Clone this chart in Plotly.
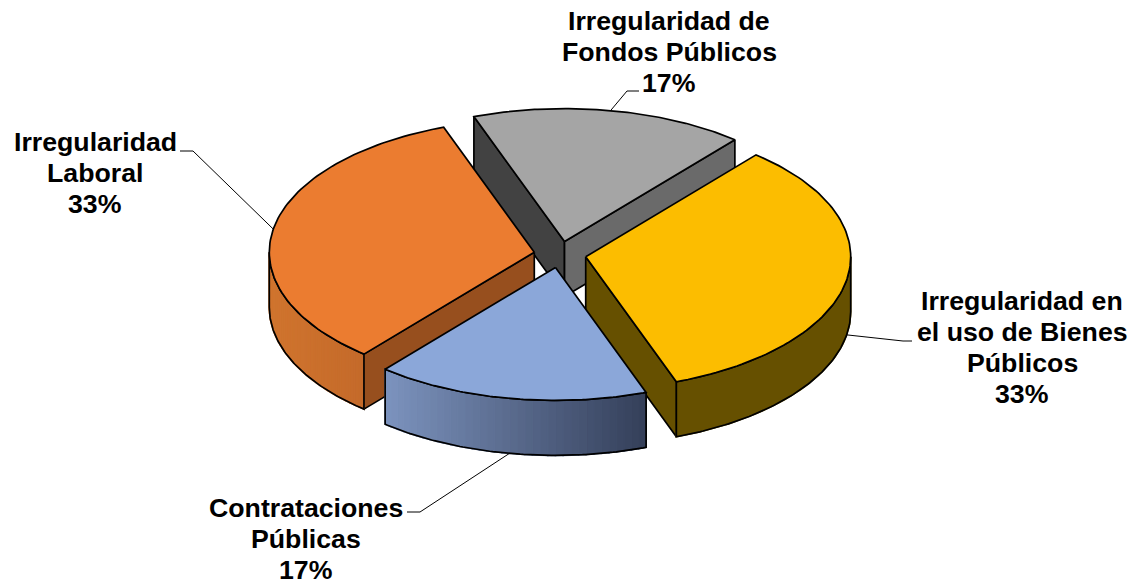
import numpy as np
import plotly.graph_objects as go

# --- data ---
categories = [["Irregularidad en", "el uso de Bienes", "Públicos"],
              ["Contrataciones", "Públicas"],
              ["Irregularidad", "Laboral"],
              ["Irregularidad de", "Fondos Públicos"]]
values = [2, 1, 2, 1]

# --- styles and layout ---
top_colors = ["#FCBD00", "#8BA7D9", "#EB7C30", "#A5A5A5"]
start_wall_colors = [None, None, "#974F1E", "#424242"]   # wall along the slice's first edge
end_wall_colors = ["#665000", None, None, "#6A6A6A"]     # wall along the slice's last edge
rim_colors = [("#665000", "#665000"), ("#7C93BE", "#343F59"),
              ("#D0742E", "#C46A2A"), None]
draw_order = [3, 2, 0, 1]
CX, CY, RX, RY, DEPTH = 560.0, 254.5, 265.0, 133.0, 55.0
EXPLODE = 0.0985
START = 50.0
LINE = 1.7
FONT_SIZE = 26.7
LINE_STEP = 31.0
label_first_line = [(1022, 301), (306, 508), (95, 142), (669, 21)]
leader_elbow = [(903, 341), (420, 512), (193, 151), (627, 91)]
leader_end = [(912, 341), (407, 512), (180, 151), (639, 91)]
leader_on_rim_bottom = [True, True, False, False]

total = sum(values)
spans = [v / total * 360.0 for v in values]
fig = go.Figure()


def add_poly(x, y, fill, line_color=None, width=1.6):
    x, y = list(x), list(y)
    fig.add_trace(go.Scatter(x=x + x[:1], y=y + y[:1], mode="lines", fill="toself", fillcolor=fill,
                             line=dict(color=line_color or fill, width=width),
                             hoverinfo="skip", showlegend=False))


def lerp(c0, c1, t):
    a = [int(c0[i:i + 2], 16) for i in (1, 3, 5)]
    b = [int(c1[i:i + 2], 16) for i in (1, 3, 5)]
    return "#%02x%02x%02x" % tuple(round(p + (q - p) * t) for p, q in zip(a, b))


def arc(cx, cy, a0, a1, n=90):
    t = np.radians(np.linspace(a0, a1, n))
    return cx + RX * np.cos(t), cy - RY * np.sin(t)


def add_cut_wall(cx, cy, a, color):
    x, y = arc(cx, cy, a, a, 1)
    add_poly([cx, x[0], x[0], cx], [cy, y[0], y[0] + DEPTH, cy + DEPTH], color, "#000000", LINE)


slices = []
angle = START
for span in spans:
    a0, a1 = angle, angle - span
    mid = np.radians((a0 + a1) / 2)
    slices.append((a0, a1, CX + EXPLODE * RX * np.cos(mid), CY - EXPLODE * RY * np.sin(mid)))
    angle = a1

for i in draw_order:
    a0, a1, cx, cy = slices[i]
    if start_wall_colors[i]:
        add_cut_wall(cx, cy, a0, start_wall_colors[i])
    if end_wall_colors[i]:
        add_cut_wall(cx, cy, a1, end_wall_colors[i])
    # outer rim: only the part of the arc facing the viewer, shaded in overlapping strips
    lo, hi = max(a1, -180.0), min(a0, 0.0)
    if rim_colors[i] and hi > lo:
        c0, c1 = rim_colors[i]
        n = 1 if c0 == c1 else 36
        edges = np.linspace(hi, lo, n + 1)
        xs_all = cx + RX * np.cos(np.radians(edges))
        x_min, x_max = xs_all.min(), xs_all.max()
        order = np.argsort(-(cx + RX * np.cos(np.radians(edges[:-1]))))
        for k in order:
            xa, ya = arc(cx, cy, edges[k], edges[k + 1], 40 if n == 1 else 4)
            t = (0.5 * (xa[0] + xa[-1]) - x_min) / max(x_max - x_min, 1)
            add_poly(list(xa) + list(xa[::-1]), list(ya) + list(ya[::-1] + DEPTH), lerp(c0, c1, t))
        xa, ya = arc(cx, cy, hi, lo)
        fig.add_trace(go.Scatter(x=list(xa) + list(xa[::-1]) + [xa[0]],
                                 y=list(ya) + list(ya[::-1] + DEPTH) + [ya[0]], mode="lines",
                                 line=dict(color="#000000", width=LINE),
                                 hoverinfo="skip", showlegend=False))
    # top face
    xa, ya = arc(cx, cy, a0, a1)
    add_poly([cx] + list(xa), [cy] + list(ya), top_colors[i], "#000000", LINE)

# leader lines start on the slice's mid angle
for i, (a0, a1, cx, cy) in enumerate(slices):
    m = np.radians((a0 + a1) / 2)
    px = cx + RX * np.cos(m)
    py = cy - RY * np.sin(m) + (DEPTH if leader_on_rim_bottom[i] else 0)
    fig.add_trace(go.Scatter(x=[px, leader_elbow[i][0], leader_end[i][0]],
                             y=[py, leader_elbow[i][1], leader_end[i][1]], mode="lines",
                             line=dict(color="#000000", width=1),
                             hoverinfo="skip", showlegend=False))

annotations = []
for lines, v, p in zip(categories, values, label_first_line):
    for j, text in enumerate(lines + [f"{round(v / total * 100)}%"]):
        annotations.append(dict(x=p[0], y=p[1] + j * LINE_STEP, xref="x", yref="y", showarrow=False,
                                xanchor="center", yanchor="middle", align="center", text=text,
                                font=dict(family="Liberation Sans, Arial", size=FONT_SIZE,
                                          color="#000000", weight=700)))

fig.update_layout(width=1130, height=583, margin=dict(l=0, r=0, t=0, b=0), paper_bgcolor="#FFFFFF",
                  plot_bgcolor="#FFFFFF", showlegend=False, annotations=annotations,
                  xaxis=dict(range=[0, 1130], visible=False, fixedrange=True),
                  yaxis=dict(range=[583, 0], visible=False, fixedrange=True))
fig.write_html("out.html", config=dict(displayModeBar=False),
               post_script="document.body.style.margin='0';")
